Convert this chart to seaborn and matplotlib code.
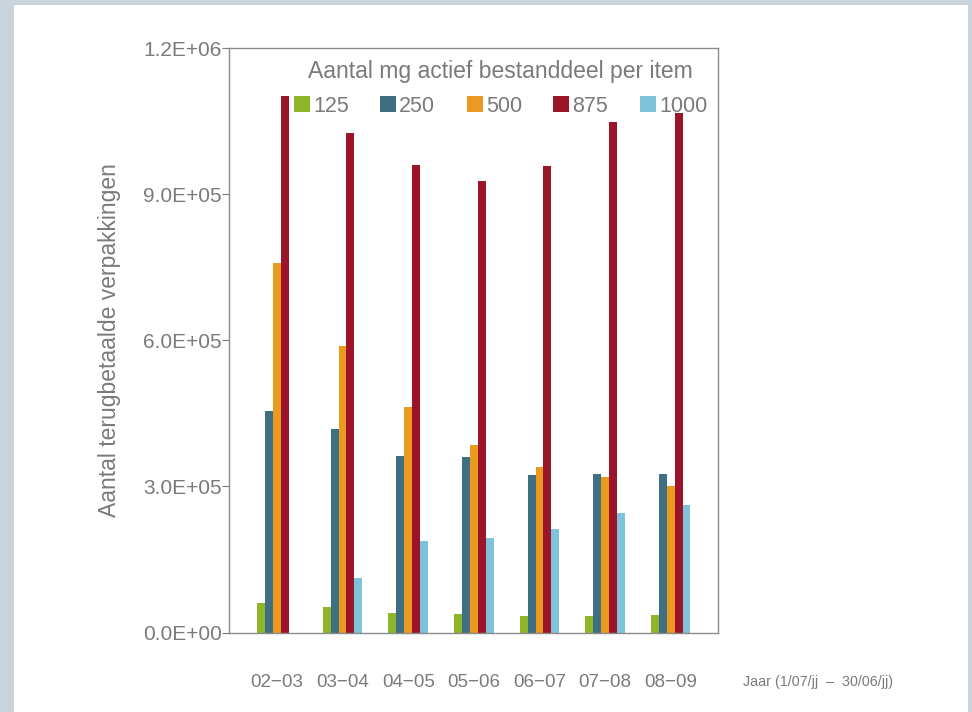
import numpy as np
import matplotlib.pyplot as plt
import pandas as pd
import seaborn as sns
from matplotlib.patches import Rectangle, Patch

years = ["02\u221203", "03\u221204", "04\u221205", "05\u221206", "06\u221207", "07\u221208", "08\u221209"]
doses = ["125", "250", "500", "875", "1000"]

mg125 = [60000, 53000, 40000, 37000, 34000, 34000, 35000]
mg250 = [454000, 417000, 363000, 361000, 324000, 326000, 326000]
mg500 = [758000, 589000, 462000, 384000, 339000, 320000, 300000]
mg875 = [1101000, 1026000, 960000, 927000, 958000, 1048000, 1067000]
mg1000 = [0, 111000, 187000, 193000, 213000, 246000, 261000]

colors = ["#8fb52b", "#3e6f82", "#e99a1f", "#9c1429", "#7fc3da"]
grey = "#7a7a7a"

df = pd.DataFrame({
    "jaar": years * 5,
    "mg": sum([[d] * len(years) for d in doses], []),
    "aantal": mg125 + mg250 + mg500 + mg875 + mg1000,
})

sns.set_style("white")
plt.rcParams["font.family"] = ["Liberation Sans", "DejaVu Sans"]

fig = plt.figure(figsize=(9.72, 7.12), dpi=100, facecolor="#c9d4dc")
# white inner panel
fig.patches.append(Rectangle((14 / 972, 0), 954 / 972, 1 - 5 / 712,
                             transform=fig.transFigure, facecolor="white",
                             edgecolor="none", zorder=-1))

ax = fig.add_axes([229 / 972, 1 - 632.5 / 712, 489 / 972, 584.5 / 712])
sns.barplot(data=df, x="jaar", y="aantal", hue="mg", hue_order=doses,
            palette=colors, width=0.6, saturation=1, linewidth=0,
            ax=ax, legend=False)

ax.set_xlim(-0.73, 6.72)
ax.set_ylim(0, 1.2e6)
yt = [0, 3e5, 6e5, 9e5, 1.2e6]
ax.set_yticks(yt)
ax.set_yticklabels(["0.0E+00", "3.0E+05", "6.0E+05", "9.0E+05", "1.2E+06"])
ax.tick_params(axis="y", direction="out", length=5, width=0.8, color=grey,
               labelsize=15, labelcolor=grey, pad=0, left=True)
ax.tick_params(axis="x", length=0, labelsize=13.5, labelcolor=grey, pad=30)
for s in ax.spines.values():
    s.set_color("#8a8a8a")
    s.set_linewidth(1.0)

ax.set_xlabel("")
ax.set_ylabel("Aantal terugbetaalde verpakkingen", fontsize=16.5, color=grey, labelpad=16)

handles = [Patch(facecolor=c, edgecolor="none") for c in colors]
leg = ax.legend(handles, doses, ncol=5, frameon=False, loc="upper center",
                bbox_to_anchor=(0.555, 1.005), title="Aantal mg actief bestanddeel per item",
                fontsize=15.5, title_fontsize=16.5, handlelength=0.75, handleheight=0.75,
                handletextpad=0.15, columnspacing=1.45, labelcolor=grey,
                borderaxespad=0.3)
leg.get_title().set_color(grey)
leg._legend_box.sep = 9

fig.text(743 / 972, 1 - 682 / 712, "Jaar (1/07/jj  \u2013  30/06/jj)",
         fontsize=10.3, color=grey, ha="left", va="center")

fig.savefig("out.png", dpi=100, facecolor=fig.get_facecolor())
